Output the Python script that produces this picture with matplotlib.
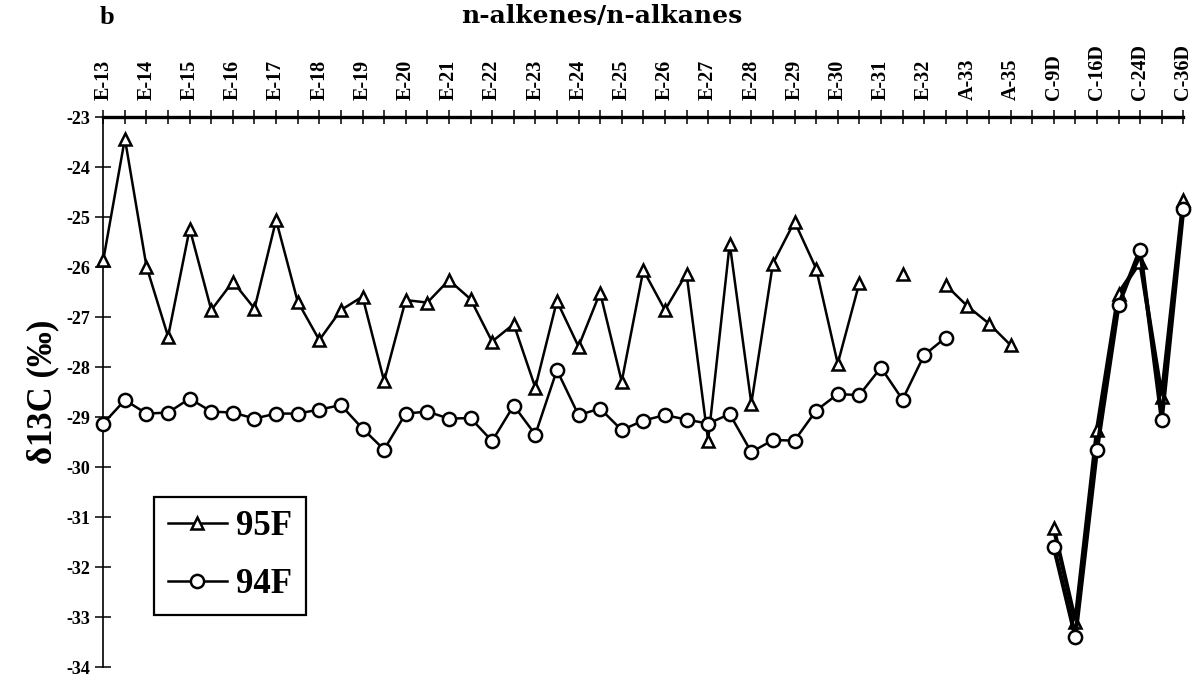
import numpy as np
import matplotlib
matplotlib.use("Agg")
import matplotlib.pyplot as plt

nan = np.nan

# labelled compounds sit on every second position of the top axis
compounds = ["E-13", "E-14", "E-15", "E-16", "E-17", "E-18", "E-19", "E-20",
             "E-21", "E-22", "E-23", "E-24", "E-25", "E-26", "E-27", "E-28",
             "E-29", "E-30", "E-31", "E-32", "A-33", "A-35",
             "C-9D", "C-16D", "C-24D", "C-36D"]

d13c_95f = [-25.86, -23.43, -25.99, -27.39, -25.23, -26.86, -26.29, -26.83,
            -25.06, -26.69, -27.46, -26.86, -26.59, -28.28, -26.66, -26.71,
            -26.26, -26.64, -27.49, -27.14, -28.41, -26.68, -27.59, -26.51,
            -28.29, -26.06, -26.86, -26.13, -29.47, -25.53, -28.73, -25.93,
            -25.09, -26.03, -27.93, -26.32, nan, -26.13, nan, -26.36,
            -26.78, -27.13, -27.56, nan,
            -31.22, -33.09, -29.26, -26.53, -25.89, -28.59, -24.65]

d13c_94f = [-29.13, -28.66, -28.93, -28.91, -28.63, -28.89, -28.91, -29.03,
            -28.93, -28.93, -28.85, -28.76, -29.23, -29.65, -28.93, -28.89,
            -29.03, -29.02, -29.48, -28.77, -29.35, -28.06, -28.96, -28.83,
            -29.26, -29.07, -28.96, -29.05, -29.13, -28.94, -29.70, -29.46,
            -29.47, -28.87, -28.54, -28.56, -28.01, -28.65, -27.76, -27.41,
            nan, nan, nan, nan,
            -31.59, -33.39, -29.66, -26.76, -25.65, -29.05, -24.83]

split = 44  # first C-series position, drawn with heavier lines

plt.rcParams["font.family"] = ["Liberation Serif", "DejaVu Serif"]
plt.rcParams["axes.unicode_minus"] = False

fig = plt.figure(figsize=(12.01, 6.87), dpi=100)
ax = fig.add_axes([0.086, 0.029, 0.8993, 0.8006])

x = np.arange(len(d13c_95f))
y95 = np.array(d13c_95f)
y94 = np.array(d13c_94f)

tri = dict(marker="^", ms=8.5, mfc="white", mec="black", mew=1.8, color="black", clip_on=False)
circ = dict(marker="o", ms=9.5, mfc="white", mec="black", mew=1.8, color="black", clip_on=False)

h95, = ax.plot(x[:split], y95[:split], lw=1.8, label="95F", zorder=3, **tri)
ax.plot(x[split:], y95[split:], lw=3.0, zorder=3, **tri)
h94, = ax.plot(x[:split], y94[:split], lw=1.8, label="94F", zorder=4, **circ)
ax.plot(x[split:], y94[split:], lw=3.0, zorder=4, **circ)

ax.set_xlim(0, len(x) - 1)
ax.set_ylim(-34, -23)

ax.xaxis.tick_top()
ax.set_xticks(np.arange(0, len(x), 2))
ax.set_xticklabels(compounds, rotation=90, fontsize=14.5, fontweight="bold")
ax.set_xticks(np.arange(1, len(x), 2), minor=True)
ax.tick_params(axis="x", which="both", direction="inout", length=10, width=1.1, pad=7)

ax.set_yticks(np.arange(-34, -22))
ax.set_yticklabels([str(v) for v in range(-34, -22)], fontsize=13, fontweight="bold")
ax.tick_params(axis="y", direction="inout", length=11, width=1.1, pad=4)

ax.spines["bottom"].set_visible(False)
ax.spines["right"].set_visible(False)
ax.spines["top"].set_linewidth(2.4)
ax.spines["left"].set_linewidth(1.2)

ax.set_ylabel("δ13C (‰)", fontsize=25, fontweight="bold", labelpad=5)

fig.text(0.501, 0.977, "n-alkenes/n-alkanes", ha="center", va="center",
         fontsize=18, fontweight="bold", family="DejaVu Serif")
fig.text(0.089, 0.975, "b", ha="center", va="center", fontsize=19, fontweight="bold")

leg = ax.legend(handles=[h95, h94], loc="upper left", bbox_to_anchor=(0.047, 0.31),
                fancybox=False, edgecolor="black", framealpha=1,
                prop={"size": 25, "weight": "bold"}, handlelength=1.7,
                handletextpad=0.25, borderpad=0.4, labelspacing=0.7,
                borderaxespad=0)
leg.get_frame().set_linewidth(1.6)

fig.savefig("out.png", dpi=100)
